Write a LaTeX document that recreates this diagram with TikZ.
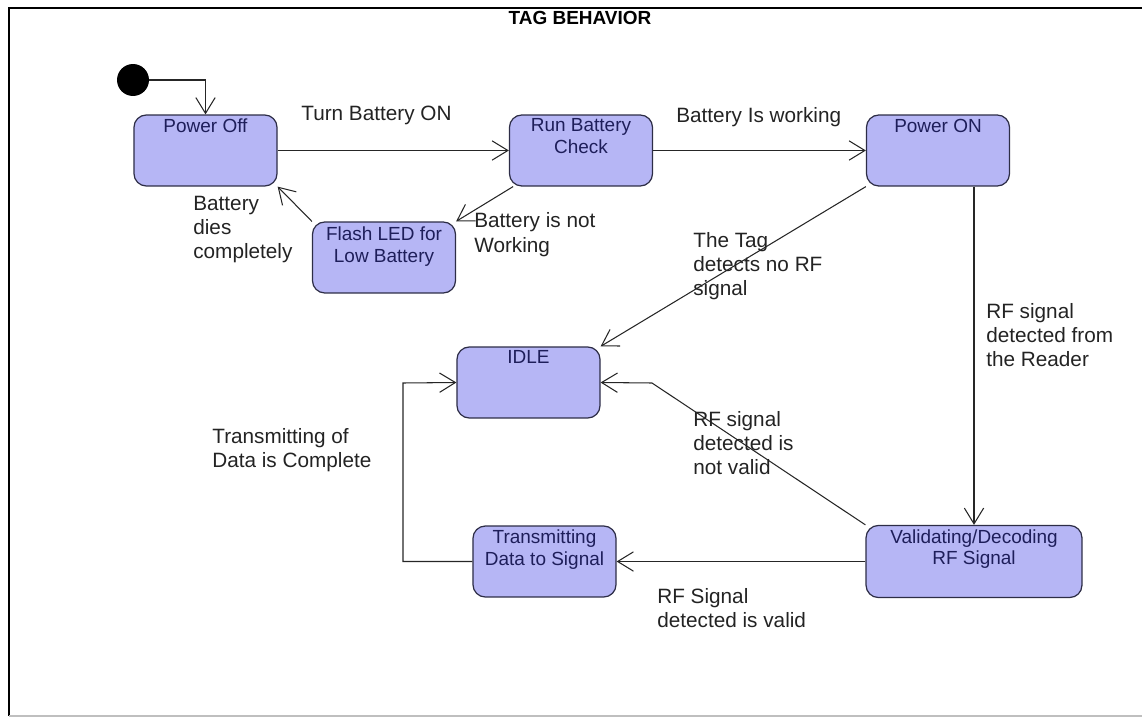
\documentclass[tikz,border=0pt]{standalone}
\usepackage{fontspec}
\setmainfont{Liberation Sans}
\usetikzlibrary{positioning, arrows.meta}

\definecolor{statefill}{RGB}{182,182,245}
\definecolor{stateline}{RGB}{45,45,70}
\definecolor{statetext}{RGB}{30,30,90}
\definecolor{guardtext}{RGB}{35,35,35}

\tikzset{
	state/.style={draw=stateline, fill=statefill, rounded corners=7pt, line width=0.7pt,
		minimum width=81.4pt, minimum height=40.4pt, inner sep=0pt},
	statename/.style={text=statetext, font=\fontsize{10.8}{12.5}\selectfont, align=center, inner sep=0pt},
	trans/.style={-{Straight Barb[length=9pt,width=11pt]}, line width=0.6pt, draw=black!85},
	guard/.style={text=guardtext, font=\fontsize{11.8}{13.8}\selectfont, align=left, anchor=north west, inner sep=0pt},
}

\begin{document}
\begin{tikzpicture}[x=0.02cm, y=-0.02cm]
	\useasboundingbox (0,0) rectangle (1142,719);

		% frame %
		\draw[line width=0.85pt] (1142,8) -- (9,8) -- (9,716);
		\draw[line width=0.85pt, black!25] (9,716) -- (1142,716);
		\node[font=\bfseries\fontsize{10.8}{12}\selectfont, inner sep=0pt] (title) at (580,18) {TAG BEHAVIOR};

		% nodes - states %
		\node[circle, fill=black, minimum size=18.2pt, inner sep=0pt] (init) at (133,80) {};
		\node[state] (off) at (205.5,150.5) {};
		\node[state] (chk) at (581,150.5) {};
		\node[state] (on) at (938,150.5) {};
		\node[state] (led) at (384,257.5) {};
		\node[state] (idle) at (528.5,382.5) {};
		\node[state] (tx) at (544.5,561.5) {};
		\node[state, minimum width=122.9pt, minimum height=41pt] (val) at (974,561.5) {};

		% nodes - state names %
		\node[statename, below=2.3pt of off.north] (off-name) {Power Off};
		\node[statename, below=2pt of chk.north] (chk-name) {Run Battery\\Check};
		\node[statename, below=2.3pt of on.north] (on-name) {Power ON};
		\node[statename, below=3pt of led.north] (led-name) {Flash LED for\\Low Battery};
		\node[statename, below=2.3pt of idle.north] (idle-name) {IDLE};
		\node[statename, below=2.3pt of tx.north] (tx-name) {Transmitting\\Data to Signal};
		\node[statename, below=2.3pt of val.north] (val-name) {Validating/Decoding\\RF Signal};

		% nodes - guards %
		\node[guard] (g-on) at (301,105.5) {Turn Battery ON};
		\node[guard] (g-ok) at (676,107.5) {Battery Is working};
		\node[guard] (g-bad) at (474,212.5) {Battery is not\\Working};
		\node[guard] (g-dies) at (193,195.5) {Battery\\dies\\completely};
		\node[guard] (g-norf) at (693,232) {The Tag\\detects no RF\\signal};
		\node[guard] (g-rf) at (986,303) {RF signal\\detected from\\the Reader};
		\node[guard] (g-inv) at (693,411) {RF signal\\detected is\\not valid};
		\node[guard] (g-val) at (657,588) {RF Signal\\detected is valid};
		\node[guard] (g-done) at (212,428) {Transmitting of\\Data is Complete};

		% edges %
		\coordinate (bend) at (652,383);
		\coordinate (back) at (403,383);
		\draw[trans] (init.east) -| (off.north);
		\draw[trans] (off.east) -- (chk.west);
		\draw[trans] (chk.east) -- (on.west);
		\draw[trans] (chk.208) -- (led.north east);
		\draw[trans] (led.north west) -- (off.south east);
		\draw[trans] (on.south west) -- (idle.north east);
		\draw[trans] (val.north |- on.south) -- (val.north);
		\draw[trans] (val.north west) -- (bend) -- (idle.east);
		\draw[trans] (val.west) -- (tx.east);
		\draw[trans] (tx.west) -| (back) -- (idle.west);

\end{tikzpicture}
\end{document}
